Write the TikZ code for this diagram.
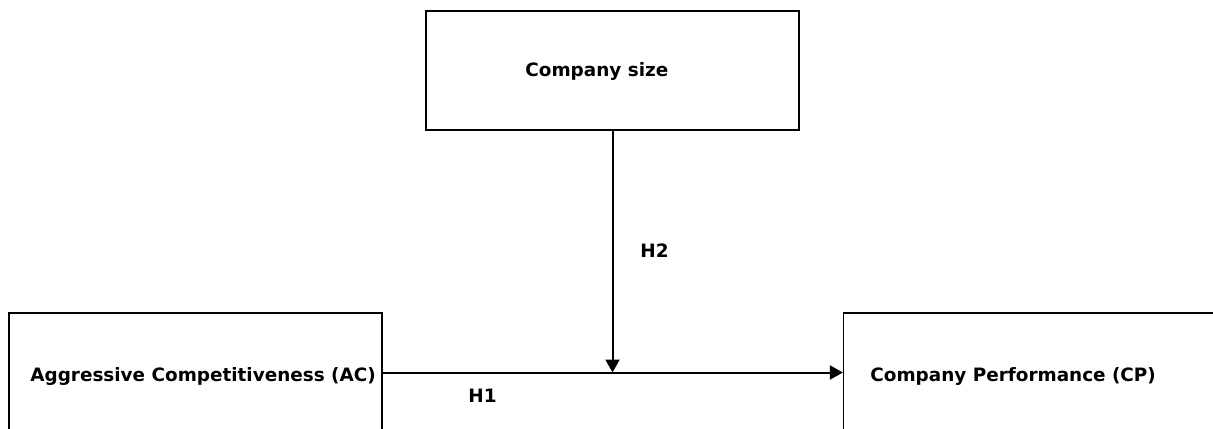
\documentclass[tikz,border=0pt]{standalone}
\usepackage{fontspec}
\setsansfont{DejaVu Sans}
\usetikzlibrary{arrows.meta, positioning}

\begin{document}
\begin{tikzpicture}[x=0.5pt, y=-0.5pt,
  varbox/.style={draw, line width=0.6pt, minimum width=186.5pt, minimum height=59.5pt, inner sep=0pt},
  varname/.style={font=\sffamily\bfseries\fontsize{9.2}{11}\selectfont, inner sep=0pt, anchor=west},
  link/.style={line width=1pt, -{Triangle[length=6.5pt, width=7pt]}}]
  \useasboundingbox (0,0) rectangle (1213,428);
  \clip (0,0) rectangle (1213,428);
  % boxes
  \node[varbox] (cs) at (612.5,70.5) {};
  \node[varbox] (ac) at (195.5,372.5) {};
  \node[varbox] (cp) at (1030,372.5) {};
  % names
  \node[varname] (csname) at (525,71) {Company size};
  \node[varname] (acname) at (30,376) {Aggressive Competitiveness (AC)};
  \node[varname] (cpname) at (870,376) {Company Performance (CP)};
  % hypotheses
  \coordinate (mod) at (cs.south |- ac.east);
  \draw[link] (ac.east) -- (cp.west);
  \draw[link] (cs.south) -- (mod);
  \node[varname] (h2) at (640,251) {H2};
  \node[varname] (h1) at (468,396) {H1};
\end{tikzpicture}
\end{document}
